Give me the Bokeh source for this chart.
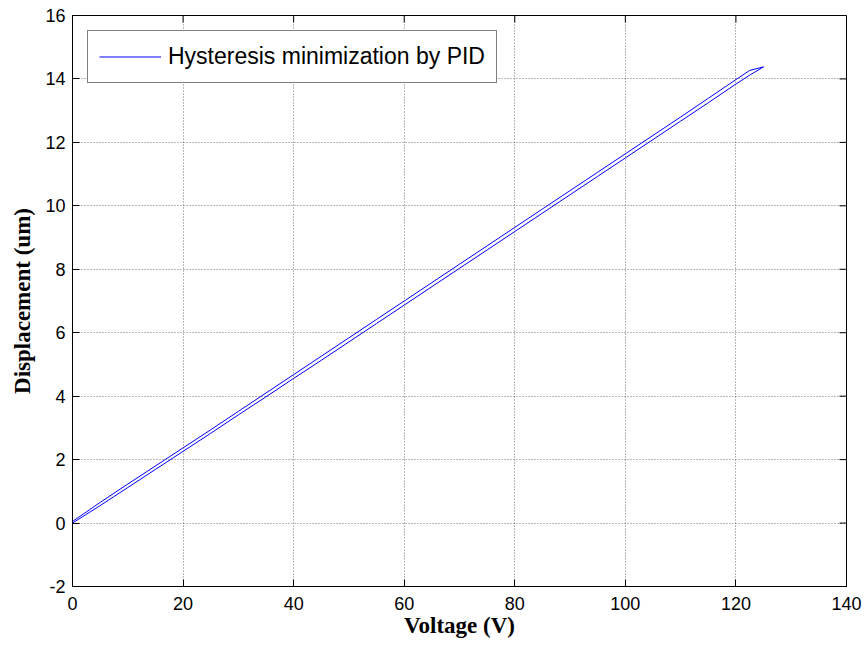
import math
from bokeh.plotting import figure
from bokeh.models import Range1d, FixedTicker, Legend, LegendItem
from bokeh.embed import file_html
from bokeh.resources import INLINE

# ---- data ----
voltage_up = [0, 5, 10, 15, 20, 25, 30, 35, 40, 45, 50, 55, 60, 65, 70, 75, 80, 85, 90, 95, 100, 105, 110, 115, 120, 122.5, 125]
disp_up = [0.00, 0.55, 1.12, 1.69, 2.26, 2.83, 3.41, 3.98, 4.56, 5.13, 5.71, 6.29, 6.87, 7.45, 8.03,
           8.61, 9.19, 9.77, 10.35, 10.93, 11.51, 12.09, 12.67, 13.25, 13.84, 14.12, 14.38]
voltage_down = [125, 122.5, 120, 115, 110, 105, 100, 95, 90, 85, 80, 75, 70, 65, 60, 55, 50, 45, 40, 35, 30, 25, 20, 15, 10, 5, 0]
disp_down = [14.38, 14.27, 13.98, 13.39, 12.80, 12.22, 11.64, 11.06, 10.48, 9.90, 9.32, 8.74, 8.16, 7.58, 7.00,
             6.42, 5.84, 5.26, 4.68, 4.10, 3.52, 2.94, 2.37, 1.80, 1.23, 0.65, 0.05]
x_ticks = [0, 20, 40, 60, 80, 100, 120, 140]
y_ticks = [-2, 0, 2, 4, 6, 8, 10, 12, 14, 16]
series_label = "Hysteresis minimization by PID"

x_min, x_max = 0, 140
y_min, y_max = -2, 16

p = figure(width=866, height=646, output_backend="svg", toolbar_location=None,
           x_range=Range1d(x_min, x_max), y_range=Range1d(y_min, y_max),
           min_border_left=72, min_border_top=15, min_border_right=20, min_border_bottom=60)
p.background_fill_color = "white"
p.border_fill_color = "white"
p.outline_line_color = "black"
p.outline_line_width = 1

r = p.line(voltage_up + voltage_down, disp_up + disp_down, line_color="#0000ff", line_width=1)

tick_font = "Liberation Sans"
for ax, ticks in ((p.xaxis[0], x_ticks), (p.yaxis[0], y_ticks)):
    ax.ticker = FixedTicker(ticks=ticks)
    ax.major_tick_in = 7
    ax.major_tick_out = 0
    ax.minor_tick_line_color = None
    ax.axis_line_color = "black"
    ax.major_tick_line_color = "black"
    ax.major_label_text_font = tick_font
    ax.major_label_text_font_size = "18px"
    ax.major_label_text_color = "black"
    ax.axis_label_text_font = "Liberation Serif"
    ax.axis_label_text_font_style = "bold"
    ax.axis_label_text_font_size = "23px"
    ax.axis_label_text_color = "black"

p.yaxis[0].major_label_overrides = {-2: "-2"}
p.xaxis[0].axis_label = "Voltage (V)"
p.xaxis[0].major_label_standoff = 10
p.xaxis[0].axis_label_standoff = 0
p.yaxis[0].axis_label = "Displacement (um)"
p.yaxis[0].major_label_standoff = 7
p.yaxis[0].axis_label_standoff = 7

# mirrored inward ticks on the top and right edges
p.ray(x=x_ticks, y=[y_max] * len(x_ticks), length=7, length_units="screen",
      angle=-math.pi / 2, line_color="black", line_width=1)
p.ray(x=[x_max] * len(y_ticks), y=y_ticks, length=7, length_units="screen",
      angle=math.pi, line_color="black", line_width=1)

p.grid.grid_line_color = "#000000"
p.grid.grid_line_alpha = 0.55
p.grid.grid_line_dash = "1 2"
p.xgrid.ticker = FixedTicker(ticks=x_ticks)
p.ygrid.ticker = FixedTicker(ticks=y_ticks)

legend = Legend(items=[LegendItem(label=series_label, renderers=[r])],
                location="top_left", margin=15, padding=11, spacing=0,
                glyph_width=62, glyph_height=29, label_height=29, label_standoff=7,
                label_text_font=tick_font, label_text_font_size="23px",
                label_text_color="black",
                border_line_color="black", border_line_width=1,
                background_fill_color="white", background_fill_alpha=1.0)
p.add_layout(legend)

open("out.html", "w").write(file_html(p, INLINE))
